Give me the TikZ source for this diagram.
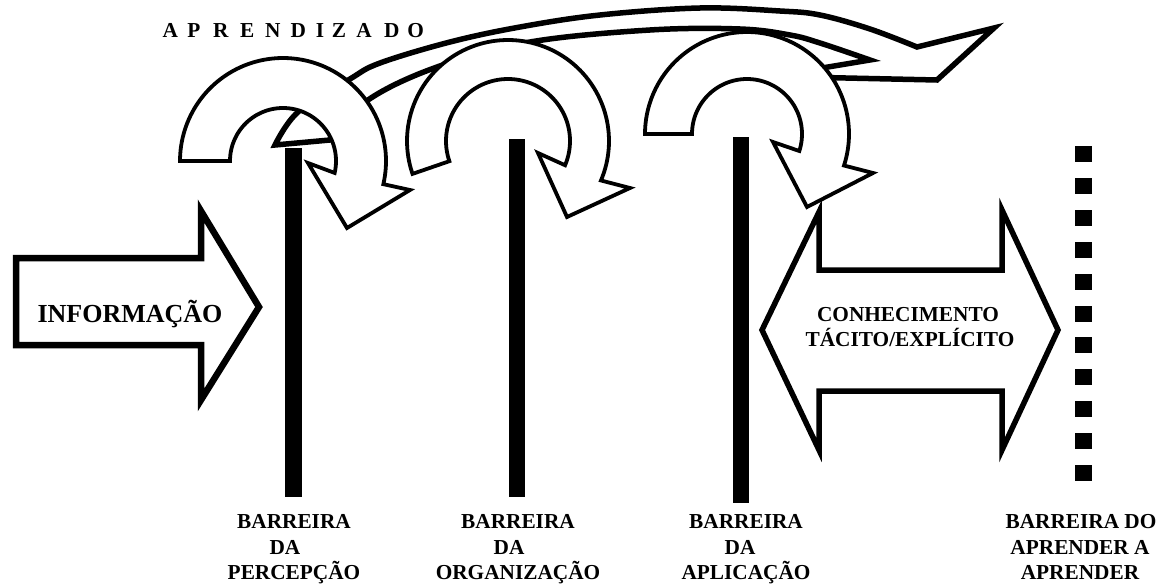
\documentclass[tikz,border=0pt]{standalone}
\usepackage{fontspec}
\setmainfont{Liberation Serif}
\begin{document}
\begin{tikzpicture}[x=1pt,y=-1pt,
  ring/.style={draw=black,line width=3.8pt,fill=white,line join=miter},
  band/.style={draw=black,line width=5.5pt,line join=miter},
  fatarrow/.style={draw=black,line width=6.5pt,fill=white,line join=miter},
  dblarrow/.style={draw=black,line width=5.5pt,fill=white,line join=miter},
  barrier/.style={fill=black},
  lbl/.style={font=\bfseries\fontsize{21.3}{25}\selectfont,inner sep=0pt,anchor=base},
  infolbl/.style={font=\bfseries\fontsize{26}{30}\selectfont,inner sep=0pt,anchor=base},
]
\useasboundingbox[fill=white] (0,0) rectangle (1165,586);

% barriers
\fill[barrier] (285,148) rectangle (302,497);
\fill[barrier] (509,139) rectangle (525,497);
\fill[barrier] (733,137) rectangle (749,503);
\foreach \k in {0,...,10} \fill[barrier] (1075,{146+31.9*\k}) rectangle (1092,{162+31.9*\k});

% APRENDIZADO band arrow
\draw[band] (810,70) -- plot[smooth,tension=0.6] coordinates {(870,60) (820,43) (790,35) (740,29) (650,30) (530,42) (437,67) (368,100) (330,140)}
 -- plot[smooth,tension=0.6] coordinates {(275,145) (298,112) (350,79) (380,63) (450,42) (520,27) (600,15) (700,8) (780,11) (820,15) (870,29) (917,47)}
 -- (994,28) -- (937,80) -- (800,77);

% big arrows
\draw[fatarrow] (16,258) -- (201,258) -- (201,211) -- (259,307) -- (201,400) -- (201,345) -- (16,345) -- cycle;
\draw[dblarrow] (762,330) -- (819,212) -- (819,270) -- (1002,270) -- (1002,210) -- (1058,330) -- (1002,450) -- (1002,391) -- (819,391) -- (819,450) -- cycle;

% circular arrows
\path[ring] plot[domain=180:373,samples=90] ({283+53*cos(\x)},{161+53*sin(\x)})
  -- (308,163) -- (347,228) -- (410,190)
  -- plot[domain=0:193,samples=90] ({283+103*cos(373-\x)},{161+103*sin(373-\x)}) -- cycle;
\path[ring] plot[domain=161:383,samples=90] ({508+62*cos(\x)},{141+62*sin(\x)})
  -- (538,153) -- (567,217) -- (630,188)
  -- plot[domain=0:222,samples=90] ({508+101*cos(383-\x)},{141+101*sin(383-\x)}) -- cycle;
\path[ring] plot[domain=180:378,samples=90] ({747+55*cos(\x)},{134+55*sin(\x)})
  -- (773,142) -- (807,207) -- (873,173)
  -- plot[domain=0:198,samples=90] ({747+102*cos(378-\x)},{134+102*sin(378-\x)}) -- cycle;

% texts
\node[infolbl] (info) at (130,322) {INFORMAÇÃO};
\node[lbl] (con1) at (908,321) {CONHECIMENTO};
\node[lbl] (con2) at (910,346) {TÁCITO/EXPLÍCITO};
\foreach \c/\px [count=\i] in {A/170.3,P/194,R/220.7,E/247.3,N/272.7,D/298.3,I/320,Z/339,A/364,D/391.7,O/415.7}
  \node[lbl] (ap\i) at (\px,38) {\c};

\node[lbl] (b1a) at (294,528) {BARREIRA};
\node[lbl] (b1b) at (285,554) {DA};
\node[lbl] (b1c) at (294,579) {PERCEPÇÃO};
\node[lbl] (b2a) at (518,528) {BARREIRA};
\node[lbl] (b2b) at (509,554) {DA};
\node[lbl] (b2c) at (518,579) {ORGANIZAÇÃO};
\node[lbl] (b3a) at (746,528) {BARREIRA};
\node[lbl] (b3b) at (740,554) {DA};
\node[lbl] (b3c) at (746,579) {APLICAÇÃO};
\node[lbl] (b4a) at (1081,528) {BARREIRA DO};
\node[lbl] (b4b) at (1080,554) {APRENDER A};
\node[lbl] (b4c) at (1080,579) {APRENDER};
\end{tikzpicture}
\end{document}
